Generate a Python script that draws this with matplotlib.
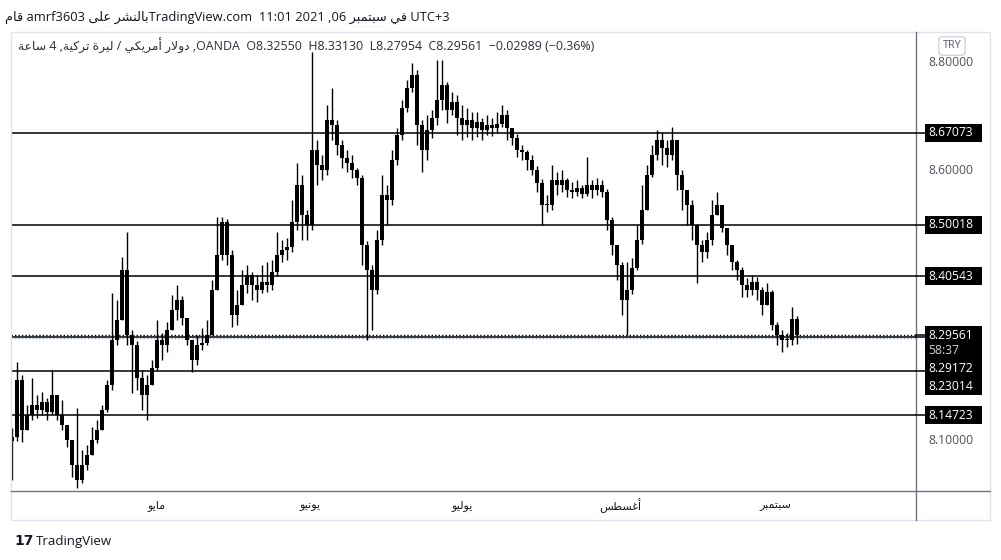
import matplotlib
matplotlib.use("Agg")
import matplotlib.pyplot as plt
from matplotlib.patches import Rectangle
from matplotlib.lines import Line2D
from matplotlib.transforms import blended_transform_factory
import numpy as np

W, H = 1001, 560

# USD/TRY, OANDA, 4h candles (thinned)
first_open = 8.100
closes = [
    8.107, 8.213, 8.120, 8.148, 8.167, 8.157, 8.172, 8.154, 8.185, 8.148,
    8.130, 8.102, 8.056, 8.028, 8.056, 8.074, 8.102, 8.120, 8.157, 8.204,
    8.287, 8.324, 8.417, 8.296, 8.278, 8.217, 8.185, 8.204, 8.235, 8.287,
    8.278, 8.306, 8.343, 8.361, 8.328, 8.287, 8.250, 8.278, 8.281, 8.296,
    8.380, 8.444, 8.506, 8.444, 8.333, 8.352, 8.389, 8.407, 8.389, 8.380,
    8.394, 8.389, 8.413, 8.444, 8.454, 8.459, 8.506, 8.574, 8.519, 8.500,
    8.639, 8.611, 8.602, 8.694, 8.685, 8.648, 8.624, 8.615, 8.602, 8.587,
    8.463, 8.417, 8.380, 8.472, 8.556, 8.546, 8.620, 8.667, 8.717, 8.754,
    8.778, 8.685, 8.639, 8.676, 8.698, 8.731, 8.759, 8.713, 8.728, 8.698,
    8.685, 8.694, 8.680, 8.691, 8.676, 8.685, 8.680, 8.687, 8.704, 8.680,
    8.661, 8.639, 8.635, 8.620, 8.602, 8.578, 8.537, 8.537, 8.583, 8.574,
    8.583, 8.565, 8.561, 8.569, 8.557, 8.574, 8.565, 8.574, 8.561, 8.509,
    8.463, 8.426, 8.361, 8.380, 8.420, 8.472, 8.528, 8.593, 8.630, 8.657,
    8.643, 8.630, 8.657, 8.593, 8.565, 8.537, 8.500, 8.463, 8.450, 8.472,
    8.519, 8.537, 8.494, 8.463, 8.431, 8.417, 8.389, 8.380, 8.394, 8.380,
    8.352, 8.376, 8.315, 8.296, 8.287, 8.287, 8.3255, 8.29561,
]
highs = [
    8.124, 8.246, 8.222, 8.167, 8.217, 8.185, 8.191, 8.180, 8.231, 8.185,
    8.176, 8.130, 8.102, 8.161, 8.083, 8.093, 8.126, 8.139, 8.167, 8.213,
    8.374, 8.361, 8.441, 8.487, 8.306, 8.285, 8.231, 8.222, 8.250, 8.324,
    8.300, 8.320, 8.370, 8.389, 8.368, 8.328, 8.287, 8.296, 8.309, 8.324,
    8.398, 8.515, 8.515, 8.512, 8.454, 8.380, 8.417, 8.426, 8.413, 8.407,
    8.426, 8.431, 8.435, 8.487, 8.472, 8.476, 8.546, 8.615, 8.593, 8.528,
    8.820, 8.657, 8.630, 8.722, 8.754, 8.694, 8.657, 8.639, 8.630, 8.606,
    8.593, 8.470, 8.426, 8.491, 8.593, 8.574, 8.639, 8.680, 8.731, 8.769,
    8.800, 8.787, 8.694, 8.704, 8.713, 8.806, 8.806, 8.765, 8.746, 8.741,
    8.722, 8.717, 8.709, 8.709, 8.698, 8.704, 8.698, 8.709, 8.722, 8.713,
    8.680, 8.668, 8.648, 8.639, 8.630, 8.609, 8.585, 8.556, 8.611, 8.598,
    8.602, 8.587, 8.580, 8.583, 8.574, 8.626, 8.583, 8.587, 8.583, 8.566,
    8.515, 8.463, 8.431, 8.431, 8.439, 8.500, 8.574, 8.611, 8.648, 8.676,
    8.672, 8.657, 8.681, 8.657, 8.602, 8.565, 8.546, 8.500, 8.472, 8.487,
    8.546, 8.561, 8.537, 8.494, 8.463, 8.435, 8.422, 8.402, 8.407, 8.404,
    8.385, 8.393, 8.380, 8.320, 8.306, 8.300, 8.348, 8.3313,
]
lows = [
    8.028, 8.100, 8.098, 8.120, 8.139, 8.143, 8.148, 8.139, 8.150, 8.139,
    8.120, 8.089, 8.033, 8.013, 8.022, 8.046, 8.074, 8.096, 8.120, 8.154,
    8.194, 8.278, 8.324, 8.278, 8.189, 8.194, 8.157, 8.139, 8.204, 8.231,
    8.250, 8.265, 8.306, 8.324, 8.315, 8.278, 8.228, 8.241, 8.269, 8.278,
    8.296, 8.380, 8.435, 8.426, 8.311, 8.315, 8.352, 8.374, 8.361, 8.357,
    8.374, 8.376, 8.380, 8.405, 8.431, 8.435, 8.450, 8.491, 8.472, 8.472,
    8.490, 8.574, 8.583, 8.593, 8.657, 8.630, 8.606, 8.598, 8.587, 8.574,
    8.426, 8.287, 8.306, 8.372, 8.463, 8.500, 8.537, 8.611, 8.657, 8.709,
    8.746, 8.648, 8.598, 8.620, 8.661, 8.685, 8.713, 8.689, 8.704, 8.667,
    8.657, 8.663, 8.657, 8.663, 8.657, 8.667, 8.665, 8.670, 8.681, 8.657,
    8.648, 8.626, 8.620, 8.602, 8.593, 8.561, 8.500, 8.524, 8.528, 8.556,
    8.561, 8.552, 8.550, 8.554, 8.550, 8.554, 8.550, 8.556, 8.552, 8.491,
    8.444, 8.398, 8.333, 8.296, 8.372, 8.417, 8.465, 8.528, 8.588, 8.620,
    8.611, 8.607, 8.620, 8.565, 8.528, 8.500, 8.472, 8.393, 8.431, 8.439,
    8.463, 8.519, 8.487, 8.444, 8.417, 8.398, 8.367, 8.367, 8.370, 8.361,
    8.333, 8.352, 8.306, 8.278, 8.265, 8.274, 8.278, 8.27954,
]
level_prices = [8.67073, 8.50018, 8.40543, 8.29172, 8.23014, 8.14723]
last_price = 8.29561
bid_price = 8.2905
countdown = "58:37"
scale_ticks = [8.1, 8.2, 8.3, 8.4, 8.5, 8.6, 8.7, 8.8]
month_labels = ["مايو", "يونيو", "يوليو", "أغسطس", "سبتمبر"]
month_pos = [29.0, 59.6, 90.0, 121.6, 152.6]
change = -0.02989
change_pct = -0.36

# --- tiny Arabic shaper (matplotlib has no bidi / joining) ---
AR_FORMS = {
    'ء': (0xFE80, 1), 'آ': (0xFE81, 2), 'أ': (0xFE83, 2), 'ؤ': (0xFE85, 2),
    'إ': (0xFE87, 2), 'ئ': (0xFE89, 4), 'ا': (0xFE8D, 2), 'ب': (0xFE8F, 4),
    'ة': (0xFE93, 2), 'ت': (0xFE95, 4), 'ث': (0xFE99, 4), 'ج': (0xFE9D, 4),
    'ح': (0xFEA1, 4), 'خ': (0xFEA5, 4), 'د': (0xFEA9, 2), 'ذ': (0xFEAB, 2),
    'ر': (0xFEAD, 2), 'ز': (0xFEAF, 2), 'س': (0xFEB1, 4), 'ش': (0xFEB5, 4),
    'ص': (0xFEB9, 4), 'ض': (0xFEBD, 4), 'ط': (0xFEC1, 4), 'ظ': (0xFEC5, 4),
    'ع': (0xFEC9, 4), 'غ': (0xFECD, 4), 'ف': (0xFED1, 4), 'ق': (0xFED5, 4),
    'ك': (0xFED9, 4), 'ل': (0xFEDD, 4), 'م': (0xFEE1, 4), 'ن': (0xFEE5, 4),
    'ه': (0xFEE9, 4), 'و': (0xFEED, 2), 'ى': (0xFEEF, 2), 'ي': (0xFEF1, 4),
}
LAM_ALEF = {'آ': 0xFEF5, 'أ': 0xFEF7, 'إ': 0xFEF9, 'ا': 0xFEFB}


def ar(word):
    out = []
    i, n = 0, len(word)
    while i < n:
        ch = word[i]
        prev = word[i - 1] if i > 0 else None
        joins_prev = prev in AR_FORMS and AR_FORMS[prev][1] == 4
        if ch == 'ل' and i + 1 < n and word[i + 1] in LAM_ALEF:
            out.append(chr(LAM_ALEF[word[i + 1]] + (1 if joins_prev else 0)))
            i += 2
            continue
        if ch not in AR_FORMS:
            out.append(ch)
            i += 1
            continue
        base, nf = AR_FORMS[ch]
        nxt = word[i + 1] if i + 1 < n else None
        joins_next = nf == 4 and nxt in AR_FORMS
        if nf == 1:
            off = 0
        elif joins_prev and joins_next:
            off = 3
        elif joins_prev:
            off = 1
        elif joins_next:
            off = 2
        else:
            off = 0
        out.append(chr(base + off))
        i += 1
    return ''.join(reversed(out))


plt.rcParams['font.family'] = ['Open Sans', 'DejaVu Sans']


def fx(px):
    return px / W


def fy(py):
    return 1 - py / H


fig = plt.figure(figsize=(W / 100, H / 100), dpi=100)
fig.patch.set_facecolor('white')

ax = fig.add_axes([fx(11), fy(491), (916 - 11) / W, (491 - 32) / H])
ax.set_facecolor('white')
for s in ax.spines.values():
    s.set_visible(False)
ax.set_xticks([])
ax.set_yticks([])

idx = np.arange(len(closes))
c = np.array(closes)
o = np.array([first_open] + closes[:-1])
hi = np.array(highs)
lo = np.array(lows)

for p in level_prices:
    ax.axhline(p, color='black', lw=1.1, zorder=1)
ax.axhline(bid_price, color='#8aa2c8', lw=1, ls=(0, (1, 1.5)), zorder=1)
ax.axhline(last_price, color='black', lw=1, ls=(0, (1, 1.5)), zorder=1)

ax.vlines(idx, lo, hi, color='black', lw=1, zorder=3)
body = np.maximum(np.abs(c - o), 0.0025)
ax.bar(idx, body, bottom=np.minimum(o, c), width=0.72, color='black', lw=0, zorder=3)

ax.set_xlim(-0.2, 180.8)
ax.set_ylim(8.8 - 428 / 540, 8.8 + 31 / 540)

# frame lines
fig.add_artist(Rectangle((fx(11), fy(520)), (990 - 11) / W, (520 - 32) / H,
                         transform=fig.transFigure, fill=False, ec='#e0e3eb', lw=1))
fig.add_artist(Line2D([fx(11), fx(990)], [fy(491), fy(491)], transform=fig.transFigure,
                      color='#6f7380', lw=1))
fig.add_artist(Line2D([fx(916), fx(916)], [fy(32), fy(520)], transform=fig.transFigure,
                      color='#6f7380', lw=1))


def price_to_py(p):
    return H - ax.transData.transform((0, p))[1]


# price axis boxes
boxes = [(last_price, [f"{last_price:.5f}", countdown])] + [(p, [f"{p:.5f}"]) for p in level_prices]
boxes.sort(key=lambda b: price_to_py(b[0]))
placed = []
prev_bottom = -1e9
for p, lines in boxes:
    py = price_to_py(p)
    hgt = 18 if len(lines) == 1 else 33
    top = max(py - 9, prev_bottom)
    fig.add_artist(Rectangle((fx(925), fy(top + hgt)), 57 / W, hgt / H,
                             transform=fig.transFigure, fc='black', ec='none'))
    fig.add_artist(Line2D([fx(916), fx(925)], [fy(py), fy(py)], transform=fig.transFigure,
                          color='black', lw=1.1))
    fig.text(fx(928), fy(top + 9), lines[0], color='white', fontsize=8.7,
             ha='left', va='center')
    if len(lines) > 1:
        fig.text(fx(928), fy(top + 24), lines[1], color='#d1d4dc', fontsize=8.7,
                 ha='left', va='center')
    placed.append((top, top + hgt))
    prev_bottom = top + hgt

for p in scale_ticks:
    py = price_to_py(p)
    if any(py + 7 > t and py - 7 < b for t, b in placed):
        continue
    fig.text(fx(928), fy(py), f"{p:.5f}", color='#4c525e', fontsize=8.7,
             ha='left', va='center')

fig.text(fx(952), fy(46), "TRY", color='#555a66', fontsize=7.8, ha='center', va='center',
         bbox=dict(boxstyle='round,pad=0.35,rounding_size=0.35', fc='white', ec='#d1d4dc', lw=1))

# month labels on the time axis
tx = blended_transform_factory(ax.transData, fig.transFigure)
for lab, pos in zip(month_labels, month_pos):
    ax.text(pos, fy(506), ar(lab), transform=tx, ha='center', va='center',
            fontsize=8, color='#131722', clip_on=False)

# header lines
line1 = (ar("قام") + " amrf3603 " + ar("على") + " " + ar("بالنشر")
         + "TradingView.com  11:01 2021 ,06 " + ar("سبتمبر") + " " + ar("في") + " UTC+3")
fig.text(fx(5), fy(17), line1, fontsize=9.3, color='#131722', ha='left', va='center')

line2 = (ar("ساعة") + " 4 ," + ar("تركية") + " " + ar("ليرة") + " / " + ar("أمريكي") + " "
         + ar("دولار") + f" ,OANDA  O{o[-1]:.5f}  H{hi[-1]:.5f}  L{lo[-1]:.5f}  C{c[-1]:.5f}  "
         + f"\u2212{abs(change):.5f} (\u2212{abs(change_pct):.2f}%)")
fig.text(fx(18), fy(46), line2, fontsize=8.95, color='#2a2e39', ha='left', va='center')

# footer logo
fig.text(fx(14), fy(541), "17", fontsize=10, fontweight='heavy', color='#131722',
         ha='left', va='center', family='DejaVu Sans')
fig.text(fx(36), fy(541), "TradingView", fontsize=9.5, color='#131722', ha='left', va='center')

fig.savefig('out.png', dpi=100)
plt.close(fig)
